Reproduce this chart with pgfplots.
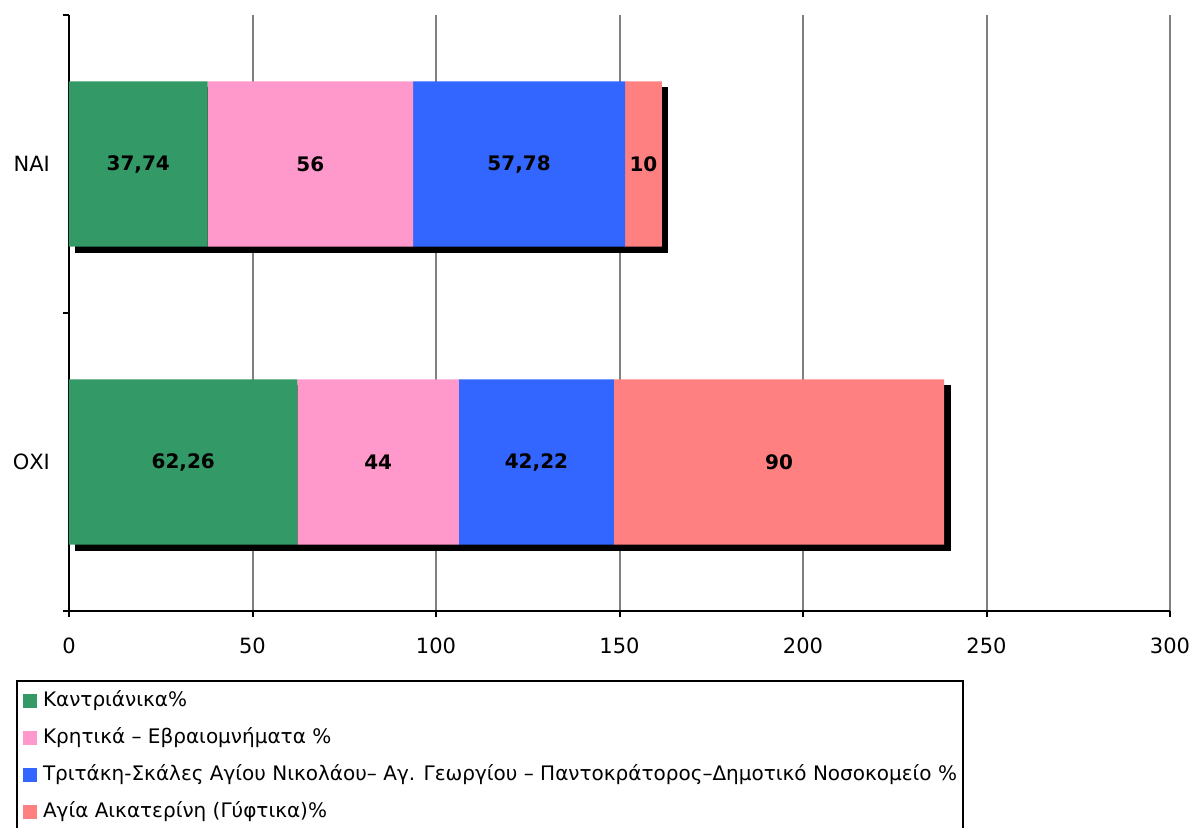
\documentclass[border=0pt]{standalone}
\usepackage{fontspec}
\setmainfont{DejaVu Sans}
\usepackage{pgfplots}
\usepackage{pgfplotstable}
\pgfplotsset{compat=1.18}
\definecolor{cgreen}{HTML}{339966}
\definecolor{cpink}{HTML}{FF99CC}
\definecolor{cblue}{HTML}{3366FF}
\definecolor{csalmon}{HTML}{FF8080}
\definecolor{cgrid}{HTML}{808080}

\pgfplotstableread{
y v lab
1.5 37.74 37,74
0.5 62.26 62,26
}\tA
\pgfplotstableread{
y v lab
1.5 56 56
0.5 44 44
}\tB
\pgfplotstableread{
y v lab
1.5 57.78 57,78
0.5 42.22 42,22
}\tC
\pgfplotstableread{
y v lab
1.5 10 10
0.5 90 90
}\tD

\pgfplotsset{
  base/.style={
    scale only axis, width=550.5pt, height=298pt,
    at={(34.5pt,108pt)}, anchor=south west,
    xmin=0, xmax=300, ymin=0, ymax=2,
    xbar stacked, bar width=0.554,
  },
  sqlegend/.style={legend image code/.code={\fill[##1] (0pt,-3.4pt) rectangle (6.8pt,3.4pt);}},
  lbl/.style={
    nodes near coords,
    point meta=explicit symbolic,
    every node near coord/.append style={anchor=center,
      font=\bfseries\fontsize{10}{12}\selectfont, text=black},
  },
}

\begin{document}
\begin{tikzpicture}
\useasboundingbox (0,0) rectangle (596.5pt,413.5pt);
% shadow + grid
\begin{axis}[base,
  axis line style={draw=none},
  xtick={50,100,...,300}, xticklabels={}, ytick=\empty,
  major tick length=0pt,
  xmajorgrids, major grid style={cgrid, line width=1pt},
]
\addplot[fill=black, draw=black, line width=0.4pt, xshift=3pt, yshift=-3pt] table[x=v,y=y]{\tA};
\addplot[fill=black, draw=black, line width=0.4pt, xshift=3pt, yshift=-3pt] table[x=v,y=y]{\tB};
\addplot[fill=black, draw=black, line width=0.4pt, xshift=3pt, yshift=-3pt] table[x=v,y=y]{\tC};
\addplot[fill=black, draw=black, line width=0.4pt, xshift=3pt, yshift=-3pt] table[x=v,y=y]{\tD};
\end{axis}
% main
\begin{axis}[base,
  axis x line*=bottom, axis y line*=left,
  axis line style={line width=1pt, black},
  xtick={0,50,...,300},
  ytick={0.5,1.5}, yticklabels={ΟΧΙ,ΝΑΙ},
  minor ytick={0,1,2},
  tick align=outside,
  major tick length=3pt, minor tick length=3pt,
  tick style={black, line width=1pt},
  major y tick style={draw=none},
  /pgf/number format/assume math mode=true,
  ticklabel style={font=\fontsize{10.5}{12.6}\selectfont},
  xticklabel style={yshift=-7pt},
  yticklabel style={xshift=-3pt},
  legend style={at={(-0.04178,-0.13289)}, anchor=north west, draw=none, fill=none,
    inner sep=0pt, row sep=8pt, legend cell align=left,
    font=\fontsize{10}{12}\selectfont,
    nodes={inner sep=0pt, text height=8pt, text depth=2.5pt},
    /tikz/every odd column/.append style={column sep=3pt}},
]
\addplot[fill=cgreen, draw=none, lbl, sqlegend] table[x=v,y=y,meta=lab]{\tA};
\addlegendentry{Καντριάνικα\%}
\addplot[fill=cpink, draw=none, lbl, sqlegend] table[x=v,y=y,meta=lab]{\tB};
\addlegendentry{Κρητικά – Εβραιομνήματα \%}
\addplot[fill=cblue, draw=none, lbl, sqlegend] table[x=v,y=y,meta=lab]{\tC};
\addlegendentry{Τριτάκη-Σκάλες Αγίου Νικολάου– Αγ. Γεωργίου – Παντοκράτορος–Δημοτικό Νοσοκομείο \%}
\addplot[fill=csalmon, draw=none, lbl, sqlegend] table[x=v,y=y,meta=lab]{\tD};
\addlegendentry{Αγία Αικατερίνη (Γύφτικα)\%}
\end{axis}
\draw[line width=1pt] (8.5pt,-20pt) -- (8.5pt,73pt) -- (481.5pt,73pt) -- (481.5pt,-20pt);
\end{tikzpicture}
\end{document}
